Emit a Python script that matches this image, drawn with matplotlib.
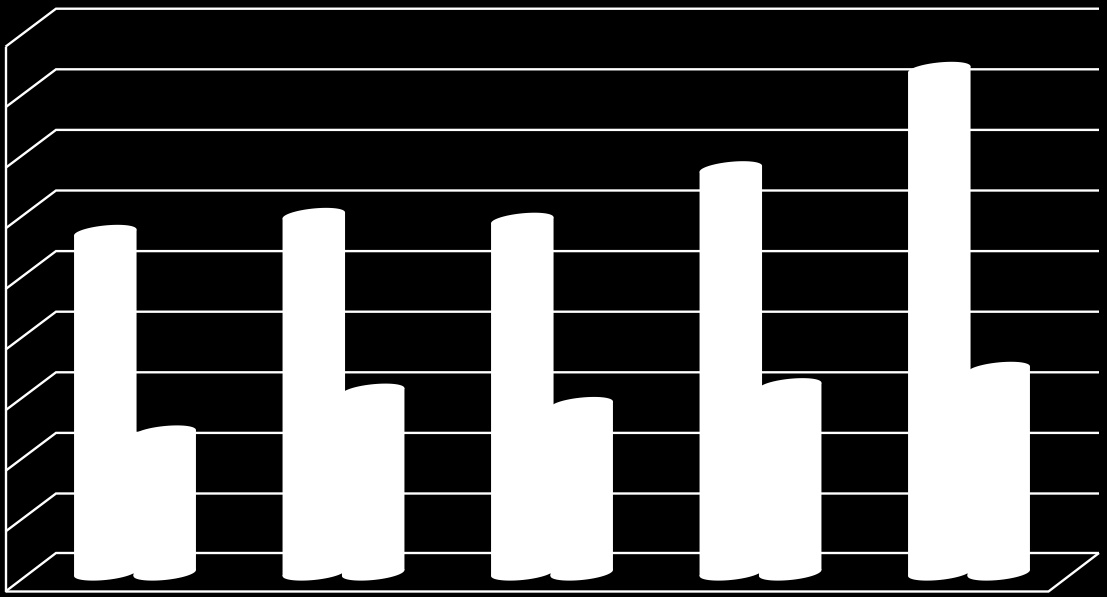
import numpy as np
import matplotlib
matplotlib.use("Agg")
import matplotlib.pyplot as plt
from matplotlib.patches import Polygon

# Values (axis units: one gridline step = 1)
categories = [0, 1, 2, 3, 4]
series_a = [5.62, 5.90, 5.82, 6.67, 8.31]
series_b = [2.31, 3.00, 2.78, 3.09, 3.36]
grid_levels = [1, 2, 3, 4, 5, 6, 7, 8, 9]

W, H = 1107, 597
PX_Y = 60.6           # pixels per value unit
PX_X = 208.5          # pixels per category
X0, Y0 = 135.0, 554.1  # pixel position of category 0 / back-wall zero

fig = plt.figure(figsize=(W / 100, H / 100), dpi=100, facecolor="black")
ax = fig.add_axes([0, 0, 1, 1])
ax.set_facecolor("black")
ax.set_xlim((0 - X0) / PX_X, (W - X0) / PX_X)
ax.set_ylim((Y0 - H) / PX_Y, Y0 / PX_Y)
ax.axis("off")

# 3-D wall geometry, expressed in data units
depth_x = 50.5 / PX_X
depth_y = 38.0 / PX_Y
back_left = (56 - X0) / PX_X
back_right = (1099 - X0) / PX_X
front_left = back_left - depth_x
floor_back = (Y0 - 553.0) / PX_Y
floor_front = floor_back - 38.5 / PX_Y
line = dict(color="white", lw=1.7, solid_capstyle="butt", solid_joinstyle="miter", zorder=1)

for lev in grid_levels:
    ax.plot([front_left, back_left, back_right], [lev - depth_y, lev, lev], **line)
ax.plot([front_left, back_left, back_right], [floor_front, floor_back, floor_back], **line)
ax.plot([front_left, front_left], [floor_front, grid_levels[-1] - depth_y], **line)
ax.plot([front_left, back_right - depth_x, back_right],
        [floor_front, floor_front, floor_back], **line)

# Cylinders
bar_w = 62.5 / PX_X
off = 29.7 / PX_X
base = (Y0 - 573) / PX_Y
b = 7.0 / PX_Y
skew = 3.0 / PX_Y
t = np.linspace(0, 2 * np.pi, 120)


def ellipse(cx, cy):
    return np.column_stack([cx + bar_w / 2 * np.cos(t),
                            cy + b * np.sin(t) + skew * np.cos(t)])


def cylinder(cx, v):
    top = base + v
    ax.add_patch(Polygon([(cx - bar_w / 2, base - skew), (cx + bar_w / 2, base + skew),
                          (cx + bar_w / 2, top + skew), (cx - bar_w / 2, top - skew)],
                         closed=True, fc="white", ec="none", zorder=3))
    ax.add_patch(Polygon(ellipse(cx, base), closed=True, fc="white", ec="none", zorder=3))
    ax.add_patch(Polygon(ellipse(cx, top), closed=True, fc="white", ec="none", zorder=3))


for c, va, vb in zip(categories, series_a, series_b):
    cylinder(c - off, va)
    cylinder(c + off, vb)

fig.savefig("out.png", dpi=100, facecolor="black")
